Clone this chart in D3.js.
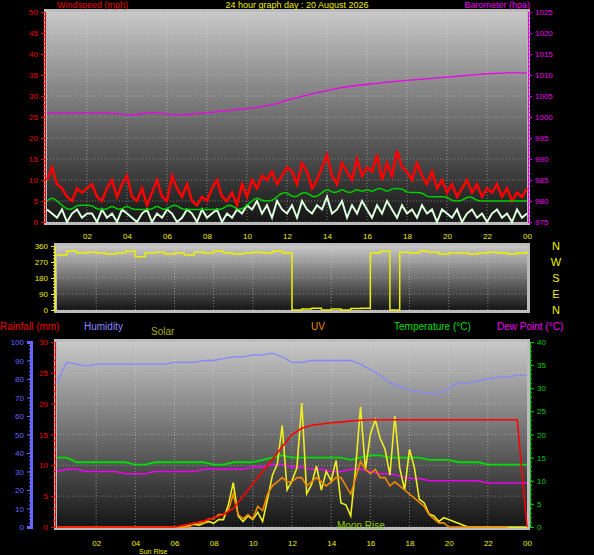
<!DOCTYPE html>
<html><head><meta charset="utf-8">
<script src="https://cdn.jsdelivr.net/npm/d3@7"></script>
<style>body{margin:0;background:#000}svg{display:block}text{font-family:"Liberation Sans",Arial,sans-serif}</style>
</head><body><svg id="c" width="594" height="555"></svg>
<script>
// 15-minute samples, 00:00 .. 24:00
const gust = [10,13,9,8,6,5,8,7,8, 9,6,5,8,10,6,9,11, 6,5,8,4,7,10,6,5, 11,8,6,9,5,4,6,5, 8,10,6,5,7,4,9,6, 10,8,11,10,12,9,11,13, 12,9,14,12,8,10,13,16, 11,9,14,12,10,15,11,13, 12,16,10,14,11,17,13,12, 10,14,11,9,12,8,10,7, 9,6,8,10,7,9,6,8, 7,9,6,8,5,7,6,8];
const windAvg = [5,6,5,4,3,3,4,4,4, 4,3,3,3,4,3,3,4, 3,3,3,3,3,4,3,3, 4,4,3,3,3,3,3,3, 3,3,3,4,4,3,3,4, 5,6,5,5,5,6,7,7, 6,6,7,7,6,6,7,8, 7,7,8,7,7,8,7,8, 7,8,8,7,8,8,8,7, 7,7,7,6,6,6,6,6, 5,5,5,6,6,5,5,5, 5,5,5,5,5,5,5,5];
const windSpd = [3,2,1,3,0,2,3,1,2, 2,0,3,1,2,0,3,2, 1,0,2,3,0,2,1,3, 2,0,1,3,2,0,3,1, 2,3,0,2,1,3,2,4, 3,5,2,4,1,5,3,2, 4,1,5,3,2,4,3,6, 2,3,5,1,4,2,5,3, 1,4,2,5,3,1,4,2, 3,1,4,2,3,0,3,2, 1,3,0,2,3,1,2,0, 2,3,1,2,0,3,1,2];
// 30-minute samples, 00:00 .. 24:00
const baro = [1001,1001,1001,1001,1001,1001,1001,1000.8,1000.5,1000.6,1001,1001,1000.7,1000.5,1000.6,1000.8,1001,1001.3,1001.5,1001.8,1002,1002.3,1002.7,1003.2,1004,1004.6,1005.2,1005.8,1006.3,1006.8,1007.2,1007.5,1007.8,1008,1008.3,1008.5,1008.7,1008.9,1009.1,1009.3,1009.5,1009.7,1009.9,1010.1,1010.3,1010.4,1010.5,1010.5,1010.5];
const windDir = [310,330,320,325,320,315,320,330,300,320,325,315,320,310,325,320,330,320,315,320,325,320,330,320,0,5,10,0,5,0,8,10,320,330,0,325,320,330,325,315,320,320,315,320,325,320,315,320,330];
const humidity = [78,89,88,87,88,88,88,88,88,88,88,88,89,89,89,90,90,91,92,92,93,93,94,92,89,89,90,90,90,90,90,88,85,82,78,76,74,73,72,72,75,78,78,79,80,81,81,82,82];
const rainfall = [0,0,0,0,0,0,0,0,0,0,0,0,0,0.3,0.6,1,1.5,2,3,5,7,9,11,13,15,16,16.5,16.7,16.9,17,17.2,17.3,17.4,17.4,17.4,17.4,17.4,17.4,17.4,17.4,17.4,17.4,17.4,17.4,17.4,17.4,17.4,17.4,0];
const temperature = [15,15,14,14,14,14,14,14,13.5,13.5,14,14,14,14,14,14,13.5,13.5,14,14,14,14.5,15,15.5,15,15,15,15,15,15,14.5,15,15.5,15.5,15,15,15,15,14.5,14.5,14.5,14,14,14,13.5,13.5,13.5,13.5,13.5];
const dewPoint = [12,12.5,12.5,12,12,12,12,11.5,11.5,11.5,12,12,12,12,12,12.5,12.5,12.5,12.5,12.5,13,13,13.5,13.5,13,13,12.5,12.5,12,12,12.5,12.5,12,11.5,11.5,11,10.5,10.5,10,10,10,10,10,10,9.5,9.5,9.5,9.5,9.5];
// 15-minute samples of solar (W/m2) and UV index, 00:00 .. 24:00
const solar = [0,0,0,0,0,0,0,0,0,0,0,0,0,0,0,0,0,0,0,0,0,0,0,0,0,0,0,10,15,10,20,30,20,40,40,120,240,60,30,60,40,80,30,150,280,340,550,200,250,320,670,180,230,330,200,300,250,360,130,120,60,320,650,310,500,580,480,420,280,600,320,200,420,320,150,130,70,60,30,50,40,30,20,10,0,0,0,0,0,0,0,0,0,0,0,0,0];
const uv = [0,0,0,0,0,0,0,0,0,0,0,0,0,0,0,0,0,0,0,0,0,0,0,0,0,0,0,0,1,1,1,2,2,3,3,4,8,3,2,3,2,5,4,8,10,11,12,11,11,12,12,10,11,12,11,10,11,12,12,10,8,12,16,14,13,14,12,12,10,11,10,9,8,7,6,5,3,2,1,1,0,0,0,0,0,0,0,0,0,0,0,0,0];
const hourTicks = ["02","04","06","08","10","12","14","16","18","20","22","00"];
const windTicks = [0,5,10,15,20,25,30,35,40,45,50];
const baroTicks = [975,980,985,990,995,1000,1005,1010,1015,1020,1025];
const dirTicks = [0,90,180,270,360];
const dirLetters = ["N","W","S","E","N"];
const humTicks = [0,10,20,30,40,50,60,70,80,90,100];
const rainTicks = [0,5,10,15,20,25,30];
const tempTicks = [0,5,10,15,20,25,30,35,40];

const svg = d3.select("#c");
const defs = svg.append("defs");
const grad = defs.append("linearGradient").attr("id","bg").attr("x1",0).attr("y1",0).attr("x2",0).attr("y2",1);
grad.append("stop").attr("offset","0%").attr("stop-color","#c8c8c8");
grad.append("stop").attr("offset","100%").attr("stop-color","#151515");

const t15 = d3.range(97).map(i => i / 4);
const t30 = d3.range(49).map(i => i / 2);

function panel(x0, x1, y0, y1) {
  svg.append("rect").attr("x", x0 - 3).attr("y", y0 - 3).attr("width", x1 - x0 + 6).attr("height", y1 - y0 + 6).attr("fill", "#bbb");
  svg.append("rect").attr("x", x0).attr("y", y0).attr("width", x1 - x0).attr("height", y1 - y0).attr("fill", "url(#bg)");
  const x = d3.scaleLinear().domain([0, 24]).range([x0, x1]);
  d3.range(2, 24, 2).forEach(h => svg.append("line").attr("x1", x(h)).attr("x2", x(h)).attr("y1", y0).attr("y2", y1)
    .attr("stroke", "#ddd").attr("stroke-opacity", 0.5).attr("stroke-dasharray", "1,2"));
  return x;
}
function hgrid(x, sc, ticks) {
  ticks.forEach(v => svg.append("line").attr("x1", x(0)).attr("x2", x(24)).attr("y1", sc(v)).attr("y2", sc(v))
    .attr("stroke", "#ddd").attr("stroke-opacity", 0.4).attr("stroke-dasharray", "1,2"));
}
function yAxis(sc, ticks, xp, color, right) {
  const ax = (right ? d3.axisRight(sc) : d3.axisLeft(sc)).tickValues(ticks).tickSize(4).tickPadding(3).tickFormat(d3.format("d"));
  const g = svg.append("g").attr("transform", `translate(${xp},0)`).call(ax);
  g.select(".domain").attr("stroke", color);
  g.selectAll("line").attr("stroke", color);
  g.selectAll("text").attr("fill", color).attr("font-size", 8);
  const d = sc.domain();
  d3.range(d[0], d[1], (ticks[1] - ticks[0]) / 5).forEach(v => g.append("line")
    .attr("x1", 0).attr("x2", right ? 2 : -2).attr("y1", sc(v)).attr("y2", sc(v)).attr("stroke", color));
  return g;
}
function xAxis(x, y) {
  const g = svg.append("g").attr("transform", `translate(0,${y})`)
    .call(d3.axisBottom(x).tickValues(d3.range(2, 25, 2)).tickFormat((d, i) => hourTicks[i]).tickSize(0).tickPadding(7));
  g.select(".domain").remove();
  g.selectAll("text").attr("fill", "#ee0").attr("font-size", 8);
}
function line(x, y, ts, data, color, w, curve) {
  svg.append("path").datum(data).attr("fill", "none").attr("stroke", color).attr("stroke-width", w)
    .attr("d", d3.line().x((d, i) => x(ts[i])).y(d => y(d)).curve(curve || d3.curveLinear));
}
function label(x, y, s, color, anchor, size) {
  svg.append("text").attr("x", x).attr("y", y).attr("fill", color).attr("font-size", size || 10)
    .attr("text-anchor", anchor || "start").text(s);
}

// top panel
const xT = panel(47, 527, 12, 222);
const yW = d3.scaleLinear().domain([0, 50]).range([222, 12]);
const yB = d3.scaleLinear().domain([975, 1025]).range([222, 12]);
hgrid(xT, yW, windTicks);
yAxis(yW, windTicks, 45, "#e00", false);
yAxis(yB, baroTicks, 528, "#e0e", true);
line(xT, yW, t15, gust, "#f00", 2.5);
line(xT, yW, t15, windSpd, "#dfd", 2);
line(xT, yW, t15, windAvg, "#0c0", 1.5, d3.curveBasis);
line(xT, yB, t30, baro, "#e0e", 1.3);
xAxis(xT, 226);
label(128, 8, "Windspeed (mph)", "#e00", "end", 9);
label(297, 8, "24 hour graph day : 20 August 2026", "#ee0", "middle", 9);
label(530, 8, "Barometer (hpa)", "#e0e", "end", 9);

// direction panel
const xD = panel(57, 527, 246, 310);
const yD = d3.scaleLinear().domain([0, 360]).range([310, 246]);
hgrid(xD, yD, dirTicks);
yAxis(yD, dirTicks, 55, "#ee0", false);
line(xD, yD, t30, windDir, "#ee0", 1.5, d3.curveStepAfter);
dirLetters.forEach((s, i) => label(556, 250 + i * 16, s, "#ee0", "middle", 11));

// bottom panel
const xB = panel(57, 527, 342, 527);
const yR = d3.scaleLinear().domain([0, 30]).range([527, 342]);
const yH = d3.scaleLinear().domain([0, 100]).range([527, 342]);
const yT = d3.scaleLinear().domain([0, 40]).range([527, 342]);
const yS = d3.scaleLinear().domain([0, 1000]).range([527, 342]);
const yU = d3.scaleLinear().domain([0, 45]).range([527, 342]);
hgrid(xB, yR, rainTicks);
yAxis(yH, humTicks, 31, "#66f", false).select(".domain").attr("stroke-width", 3);
yAxis(yR, rainTicks, 55, "#e00", false);
yAxis(yT, tempTicks, 530, "#0c0", true);
line(xB, yH, t30, humidity, "#88f", 1.3);
line(xB, yT, t30, temperature, "#0d0", 1.8);
line(xB, yT, t30, dewPoint, "#e0e", 1.5);
line(xB, yS, t15, solar, "#ee2", 1.6);
line(xB, yU, t15, uv, "#e80", 1.6);
line(xB, yR, t30, rainfall, "#f00", 1.6);
xAxis(xB, 533);
label(139, 554, "Sun Rise", "#ee0", "start", 7);
label(0, 330, "Rainfall (mm)", "#e00");
label(84, 330, "Humidity", "#88f");
label(151, 335, "Solar", "#aa0");
label(318, 330, "UV", "#e80", "middle");
label(394, 330, "Temperature (°C)", "#0d0");
label(497, 330, "Dew Point (°C)", "#e0e");
label(337, 529, "Moon Rise", "#8c0");
</script></body></html>
